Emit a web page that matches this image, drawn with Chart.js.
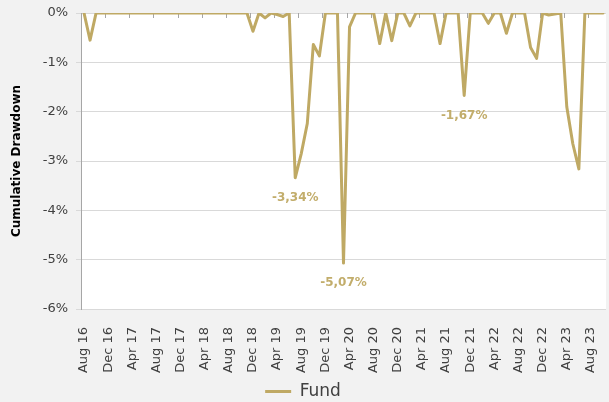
<!DOCTYPE html>
<html>
<head>
<meta charset="utf-8">
<title>Cumulative Drawdown</title>
<script src="https://cdn.jsdelivr.net/npm/chart.js@4.4.0/dist/chart.umd.min.js"></script>
<style>
  html, body { margin: 0; padding: 0; background: #f2f2f2; }
  #chartDrawdown { display: block; }
</style>
</head>
<body>
<canvas id="chartDrawdown" width="609" height="402"></canvas>
<script>
// monthly categories, Aug 16 .. Oct 23
const months = [
  "Aug 16","Sep 16","Oct 16","Nov 16","Dec 16",
  "Jan 17","Feb 17","Mar 17","Apr 17","May 17","Jun 17","Jul 17","Aug 17","Sep 17","Oct 17","Nov 17","Dec 17",
  "Jan 18","Feb 18","Mar 18","Apr 18","May 18","Jun 18","Jul 18","Aug 18","Sep 18","Oct 18","Nov 18","Dec 18",
  "Jan 19","Feb 19","Mar 19","Apr 19","May 19","Jun 19","Jul 19","Aug 19","Sep 19","Oct 19","Nov 19","Dec 19",
  "Jan 20","Feb 20","Mar 20","Apr 20","May 20","Jun 20","Jul 20","Aug 20","Sep 20","Oct 20","Nov 20","Dec 20",
  "Jan 21","Feb 21","Mar 21","Apr 21","May 21","Jun 21","Jul 21","Aug 21","Sep 21","Oct 21","Nov 21","Dec 21",
  "Jan 22","Feb 22","Mar 22","Apr 22","May 22","Jun 22","Jul 22","Aug 22","Sep 22","Oct 22","Nov 22","Dec 22",
  "Jan 23","Feb 23","Mar 23","Apr 23","May 23","Jun 23","Jul 23","Aug 23","Sep 23","Oct 23"
];

// cumulative drawdown of the fund, in %
const fund = [
  0, -0.55, 0, 0, 0,
  0, 0, 0, 0, 0, 0, 0, 0, 0, 0, 0, 0,
  0, 0, 0, 0, 0, 0, 0, 0, 0, 0, 0, -0.37,
  0, -0.10, 0, -0.03, -0.07, 0, -3.34, -2.85, -2.24, -0.64, -0.87, 0,
  0, 0, -5.07, -0.28, 0, 0, 0, 0, -0.62, 0, -0.56, 0,
  0, -0.26, 0, 0, 0, 0, -0.62, 0, 0, 0, -1.67, 0,
  0, 0, -0.21, 0, 0, -0.41, 0, 0, 0, -0.70, -0.92, 0,
  -0.04, -0.02, 0, -1.90, -2.65, -3.16, 0, 0, 0, 0
];

const yTicks = [0, -1, -2, -3, -4, -5, -6];
const labelledPoints = [35, 43, 63];   // troughs that carry a value label
const tickEvery = 4;                   // one x label every 4 months

const gold = "#bfa964";
const fontFamily = "'DejaVu Sans', sans-serif";

const fmtPct = v => v.toFixed(2).replace(".", ",") + "%";

// grey page, white plot area
const backgroundPlugin = {
  id: "background",
  beforeDraw(chart) {
    const { ctx, chartArea: a } = chart;
    ctx.save();
    ctx.fillStyle = "#f2f2f2";
    ctx.fillRect(0, 0, chart.width, chart.height);
    ctx.fillStyle = "#ffffff";
    ctx.fillRect(a.left, a.top, a.right - a.left, a.bottom - a.top);
    ctx.restore();
  }
};

// small tick marks hanging down from the 0% line, between categories
const topTicksPlugin = {
  id: "topTicks",
  beforeDatasetsDraw(chart) {
    const { ctx, chartArea: a, scales: { x } } = chart;
    const half = (x.getPixelForValue(1) - x.getPixelForValue(0)) / 2;
    ctx.save();
    ctx.strokeStyle = "#a6a6a6";
    ctx.lineWidth = 1;
    ctx.beginPath();
    for (let i = 0; i < months.length; i += tickEvery) {
      const px = Math.round(x.getPixelForValue(i) - half) + 0.5;
      ctx.moveTo(px, a.top);
      ctx.lineTo(px, a.top + 5);
    }
    ctx.stroke();
    ctx.restore();
  }
};

// value labels under the main troughs
const troughLabelsPlugin = {
  id: "troughLabels",
  afterDatasetsDraw(chart) {
    const { ctx } = chart;
    const meta = chart.getDatasetMeta(0);
    ctx.save();
    ctx.fillStyle = "#c2ad6b";
    ctx.font = "bold 12px " + fontFamily;
    ctx.textAlign = "center";
    ctx.textBaseline = "middle";
    labelledPoints.forEach(i => {
      const p = meta.data[i];
      ctx.fillText(fmtPct(fund[i]), p.x, p.y + 20);
    });
    ctx.restore();
  }
};

new Chart(document.getElementById("chartDrawdown"), {
  type: "line",
  data: {
    labels: months,
    datasets: [{
      label: "Fund",
      data: fund,
      borderColor: gold,
      backgroundColor: gold,
      borderWidth: 3,
      borderJoinStyle: "round",
      borderCapStyle: "round",
      pointRadius: 0,
      pointHoverRadius: 0,
      tension: 0,
      fill: false
    }]
  },
  options: {
    responsive: false,
    animation: false,
    devicePixelRatio: 1,
    layout: { padding: { left: 0, right: 3, top: 13, bottom: -8 } },
    plugins: {
      tooltip: { enabled: false },
      legend: {
        position: "bottom",
        labels: {
          usePointStyle: true,
          pointStyle: "line",
          pointStyleWidth: 26,
          color: "#404040",
          font: { family: fontFamily, size: 17, lineHeight: 1 },
          padding: 2
        }
      }
    },
    scales: {
      x: {
        offset: true,
        grid: { display: false },
        border: { display: false },
        ticks: {
          autoSkip: false,
          minRotation: 90,
          maxRotation: 90,
          padding: 10,
          color: "#404040",
          font: { family: fontFamily, size: 13 },
          callback(value, index) {
            return index % tickEvery === 0 ? this.getLabelForValue(value) : "";
          }
        },
        afterFit(scale) {
          scale.height = 72;
          scale.paddingLeft = 0;
          scale.paddingRight = 0;
        }
      },
      y: {
        min: yTicks[yTicks.length - 1],
        max: yTicks[0],
        afterBuildTicks(scale) { scale.ticks = yTicks.map(v => ({ value: v })); },
        ticks: {
          padding: 8,
          color: "#404040",
          font: { family: fontFamily, size: 13 },
          callback: v => v + "%"
        },
        grid: { color: "#d9d9d9", lineWidth: 1, tickLength: 5 },
        border: { display: true, color: "#a6a6a6", width: 1 },
        title: {
          display: true,
          text: "Cumulative Drawdown",
          color: "#000000",
          font: { family: fontFamily, size: 12, weight: "bold" },
          padding: { top: 10, bottom: 0 }
        },
        afterFit(scale) {
          scale.width = 81;
          scale.paddingTop = 0;
          scale.paddingBottom = 0;
        }
      }
    }
  },
  plugins: [backgroundPlugin, topTicksPlugin, troughLabelsPlugin]
});
</script>
</body>
</html>
